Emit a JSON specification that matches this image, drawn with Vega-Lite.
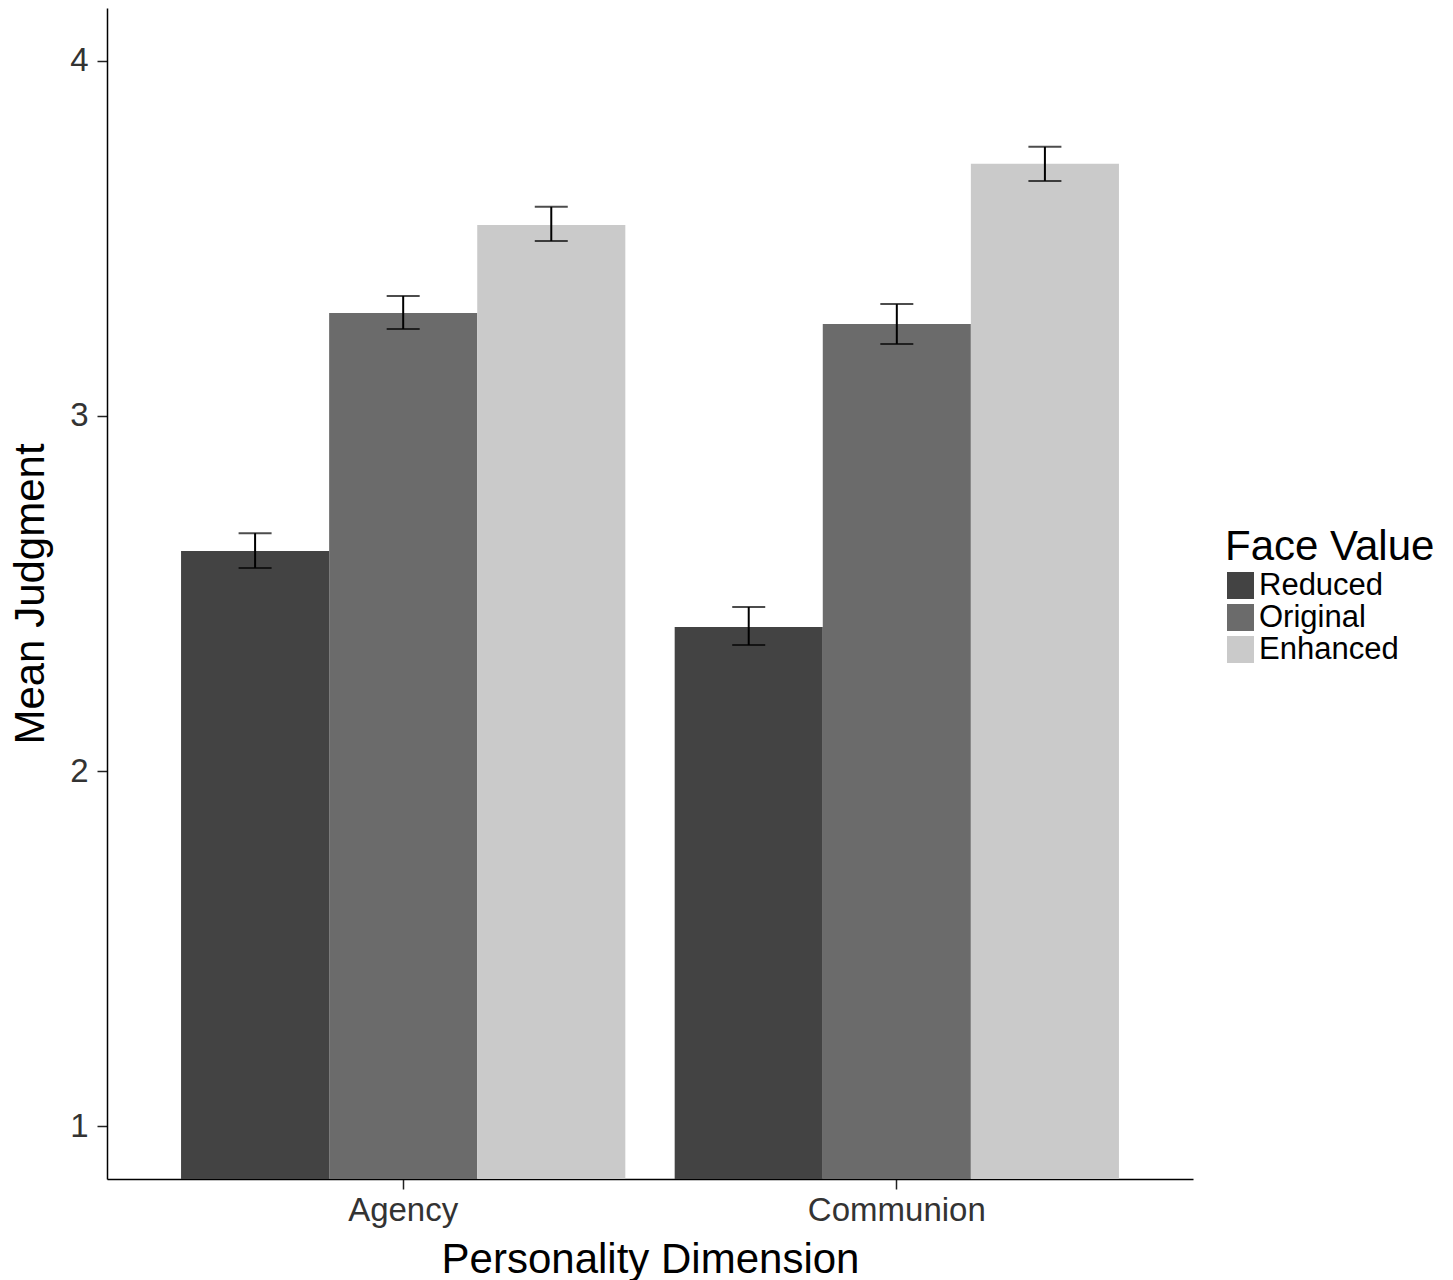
{
  "$schema": "https://vega.github.io/schema/vega-lite/v6.json",
  "width": 1086,
  "height": 1171,
  "autosize": "none",
  "padding": {"left": 107, "top": 8, "right": 260, "bottom": 101},
  "background": "white",
  "config": {
    "view": {"stroke": null},
    "font": "Liberation Sans",
    "axis": {
      "grid": false,
      "domainColor": "#000000",
      "domainWidth": 1.5,
      "tickColor": "#222222",
      "tickWidth": 1.5,
      "tickSize": 10,
      "labelFont": "Liberation Sans",
      "labelFontSize": 33,
      "labelColor": "#333333",
      "titleFont": "Liberation Sans",
      "titleFontSize": 42,
      "titleFontWeight": "normal",
      "titleColor": "#000000"
    }
  },
  "data": {
    "values": [
      {"dimension": "Agency", "face": "Reduced", "mean": 2.62, "lo": 2.572, "hi": 2.670},
      {"dimension": "Agency", "face": "Original", "mean": 3.29, "lo": 3.245, "hi": 3.338},
      {"dimension": "Agency", "face": "Enhanced", "mean": 3.538, "lo": 3.493, "hi": 3.589},
      {"dimension": "Communion", "face": "Reduced", "mean": 2.406, "lo": 2.355, "hi": 2.462},
      {"dimension": "Communion", "face": "Original", "mean": 3.259, "lo": 3.203, "hi": 3.315},
      {"dimension": "Communion", "face": "Enhanced", "mean": 3.71, "lo": 3.662, "hi": 3.758}
    ]
  },
  "encoding": {
    "x": {
      "field": "dimension",
      "type": "nominal",
      "title": "Personality Dimension",
      "scale": {"paddingInner": 0.1, "paddingOuter": 0.15},
      "axis": {"labelAngle": 0, "labelPadding": 5, "titlePadding": 12}
    },
    "xOffset": {
      "field": "face",
      "type": "nominal",
      "sort": ["Reduced", "Original", "Enhanced"],
      "scale": {"paddingInner": 0, "paddingOuter": 0}
    }
  },
  "layer": [
    {
      "mark": {"type": "bar", "clip": true},
      "encoding": {
        "y": {
          "field": "mean",
          "type": "quantitative",
          "title": "Mean Judgment",
          "scale": {"domain": [0.851, 4.149], "nice": false, "zero": false},
          "axis": {"values": [1, 2, 3, 4], "format": "d", "labelPadding": 9, "titlePadding": 17}
        },
        "color": {
          "field": "face",
          "type": "nominal",
          "title": "Face Value",
          "scale": {
            "domain": ["Reduced", "Original", "Enhanced"],
            "range": ["#434343", "#6b6b6b", "#cacaca"]
          },
          "legend": {
            "orient": "none",
            "legendX": 1118,
            "legendY": 519,
            "symbolType": "square",
            "symbolSize": 729,
            "symbolStrokeWidth": 0,
            "symbolOpacity": 1,
            "labelFont": "Liberation Sans",
            "labelFontSize": 31,
            "labelColor": "#000000",
            "labelOffset": 3,
            "labelLimit": 300,
            "rowPadding": 0,
            "titleFont": "Liberation Sans",
            "titleFontSize": 42,
            "titleFontWeight": "normal",
            "titleColor": "#000000",
            "titleLimit": 400,
            "titlePadding": 1
          }
        }
      }
    },
    {
      "mark": {"type": "rule", "color": "#000000", "strokeWidth": 2},
      "encoding": {
        "y": {"field": "lo", "type": "quantitative"},
        "y2": {"field": "hi"}
      }
    },
    {
      "mark": {"type": "tick", "color": "#000000", "thickness": 2, "size": 33},
      "encoding": {
        "y": {"field": "lo", "type": "quantitative"}
      }
    },
    {
      "mark": {"type": "tick", "color": "#000000", "thickness": 2, "size": 33},
      "encoding": {
        "y": {"field": "hi", "type": "quantitative"}
      }
    }
  ]
}
